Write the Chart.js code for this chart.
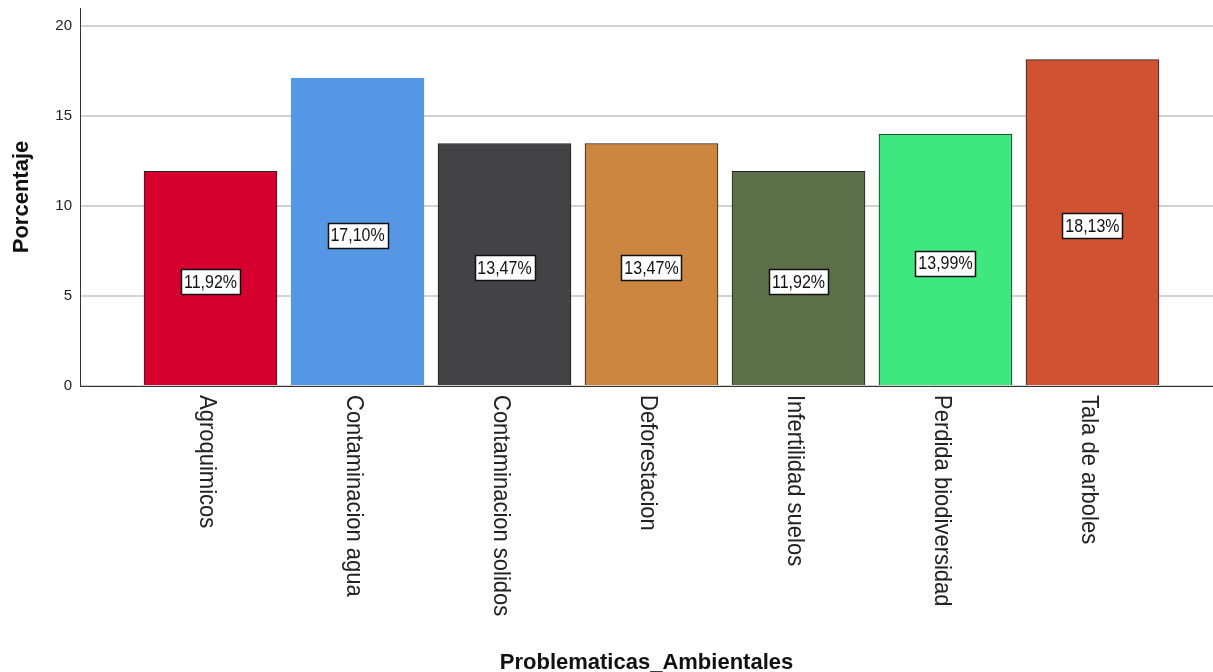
<!DOCTYPE html>
<html>
<head>
<meta charset="utf-8">
<script src="https://cdn.jsdelivr.net/npm/chart.js@4/dist/chart.umd.min.js"></script>
<style>
  html, body { margin: 0; padding: 0; background: #fff; }
  #wrap { width: 1213px; height: 672px; position: relative; }
</style>
</head>
<body>
<div id="wrap"><canvas id="chart"></canvas></div>
<script>
// --- Data ---
const categories = ['Agroquimicos', 'Contaminacion agua', 'Contaminacion solidos', 'Deforestacion',
                    'Infertilidad suelos', 'Perdida biodiversidad', 'Tala de arboles'];
const percentages = [11.92, 17.10, 13.47, 13.47, 11.92, 13.99, 18.13];
const yTicks = [0, 5, 10, 15, 20];
const barColors = ['#d6002f', '#5597e5', '#434345', '#cc863f', '#5b6f48', '#3fe87e', '#d05232'];
const barBorders = ['#222', '#5597e5', '#222', '#222', '#222', '#222', '#222'];

const FONT = '"Liberation Sans", Arial, sans-serif';

// category labels, rotated to read top-to-bottom
const categoryLabels = {
    id: 'categoryLabels',
    afterDraw(chart) {
        const ctx = chart.ctx;
        const xs = chart.scales.x;
        const top = chart.chartArea.bottom + 9;
        ctx.save();
        ctx.fillStyle = '#222';
        ctx.font = '22px ' + FONT;
        categories.forEach((c, i) => {
            const x = xs.getPixelForValue(i) - 4;
            ctx.save();
            ctx.translate(x, top);
            ctx.rotate(Math.PI / 2);
            ctx.scale(1, 1.12);
            ctx.textAlign = 'left';
            ctx.textBaseline = 'middle';
            ctx.fillText(c, 0, 0);
            ctx.restore();
        });
        ctx.restore();
    }
};

// boxed value labels in the middle of each bar
const valueLabels = {
    id: 'valueLabels',
    afterDatasetsDraw(chart) {
        const ctx = chart.ctx;
        const xs = chart.scales.x, ys = chart.scales.y;
        ctx.save();
        ctx.font = '16px ' + FONT;
        ctx.textAlign = 'center';
        ctx.textBaseline = 'middle';
        percentages.forEach((v, i) => {
            const txt = v.toFixed(2).replace('.', ',') + '%';
            const cx = xs.getPixelForValue(i);
            const cy = ys.getPixelForValue(v / 2) + 3;
            const w = Math.round(ctx.measureText(txt).width + 6);
            const h = 25;
            const bx = Math.round(cx - w / 2) + 0.5, by = Math.round(cy - h / 2) + 0.5;
            ctx.fillStyle = '#fff';
            ctx.fillRect(bx, by, w, h);
            ctx.strokeStyle = '#111';
            ctx.lineWidth = 1.5;
            ctx.strokeRect(bx, by, w, h);
            ctx.fillStyle = '#111';
            ctx.save();
            ctx.translate(cx, cy + 1);
            ctx.scale(1, 1.15);
            ctx.fillText(txt, 0, 0);
            ctx.restore();
        });
        ctx.restore();
    }
};

new Chart(document.getElementById('chart'), {
    type: 'bar',
    data: {
        datasets: [{
            data: percentages.map((v, i) => ({ x: i, y: v })),
            backgroundColor: barColors,
            borderColor: barBorders,
            borderWidth: 1,
            barThickness: 133
        }]
    },
    options: {
        responsive: true,
        maintainAspectRatio: false,
        animation: false,
        layout: { padding: { top: 8, right: 0, left: 0, bottom: 0 } },
        plugins: { legend: { display: false }, tooltip: { enabled: false } },
        scales: {
            x: {
                type: 'linear',
                offset: false,
                min: -0.888,
                max: 6.82,
                grid: { display: false },
                border: { color: '#333', width: 1 },
                ticks: { display: false },
                title: {
                    display: true,
                    text: 'Problematicas_Ambientales',
                    color: '#111',
                    font: { family: FONT, size: 22, weight: 'bold' },
                    padding: { top: 0, bottom: -4 }
                },
                afterFit: (s) => { s.height = 286; s.paddingLeft = 0; s.paddingRight = 0; }
            },
            y: {
                min: 0,
                max: 21,
                afterBuildTicks: (s) => { s.ticks = yTicks.map(v => ({ value: v })); },
                grid: { color: '#d2d2d2', lineWidth: 2, drawTicks: false },
                border: { color: '#333', width: 1 },
                ticks: { color: '#222', padding: 8, font: { family: FONT, size: 15 } },
                title: {
                    display: true,
                    text: 'Porcentaje',
                    color: '#111',
                    font: { family: FONT, size: 22, weight: 'bold' },
                    padding: { top: 9, bottom: 0 }
                },
                afterFit: (s) => { s.width = 80; s.paddingTop = 0; s.paddingBottom = 0; }
            }
        }
    },
    plugins: [categoryLabels, valueLabels]
});
</script>
</body>
</html>
